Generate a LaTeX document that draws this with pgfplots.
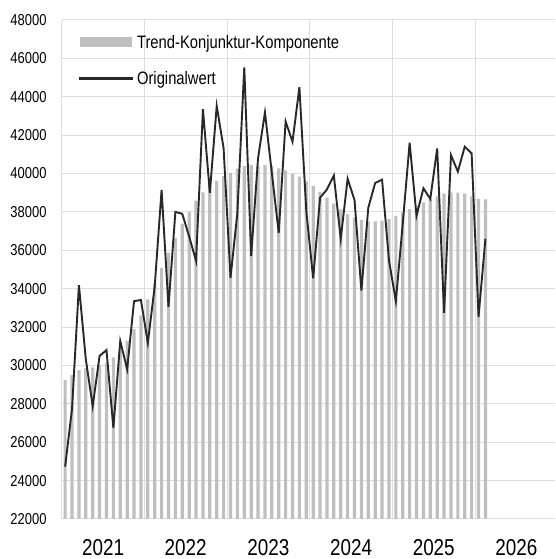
\documentclass[border=0pt]{standalone}
\usepackage{fontspec}
\setmainfont{Liberation Sans}[FakeStretch=0.82]
\usepackage{pgfplots}
\pgfplotsset{compat=1.18}
\usepackage{pgfplotstable}
\definecolor{barcol}{RGB}{191,191,191}
\definecolor{linecol}{RGB}{40,40,40}
\definecolor{gridcol}{RGB}{222,222,222}

\pgfplotstableread{
x trend orig
0.5 29230 24730
1.5 29500 27740
2.5 29760 34180
3.5 29850 30320
4.5 29900 27880
5.5 30000 30500
6.5 30150 30800
7.5 30420 26750
8.5 30800 31270
9.5 31270 29800
10.5 31880 33350
11.5 32610 33410
12.5 33440 31180
13.5 34250 34120
14.5 35080 39150
15.5 35880 33050
16.5 36640 38000
17.5 37390 37900
18.5 38000 36720
19.5 38590 35450
20.5 39020 43350
21.5 39450 38990
22.5 39630 43520
23.5 39860 41320
24.5 40030 34570
25.5 40250 37950
26.5 40380 45530
27.5 40450 35700
28.5 40380 40800
29.5 40450 43180
30.5 40380 40030
31.5 40270 36900
32.5 40160 42710
33.5 40000 41660
34.5 39840 44500
35.5 39580 38050
36.5 39340 34540
37.5 39050 38740
38.5 38750 39170
39.5 38430 39900
40.5 38130 36600
41.5 37870 39730
42.5 37700 38620
43.5 37580 33900
44.5 37510 38220
45.5 37510 39510
46.5 37550 39680
47.5 37620 35480
48.5 37790 33350
49.5 37980 37380
50.5 38150 41600
51.5 38320 37800
52.5 38500 39230
53.5 38670 38680
54.5 38810 41310
55.5 38950 32740
56.5 39000 40960
57.5 39000 40100
58.5 38950 41400
59.5 38810 41050
60.5 38680 32540
61.5 38660 36600
}\datatable

\begin{document}
\begin{tikzpicture}
\begin{axis}[
  scale only axis, width=493.3pt, height=499pt,
  xmin=0, xmax=71.6, ymin=22000, ymax=48000,
  scaled y ticks=false,
  axis line style={draw=none},
  xtick={6,18,30,42,54,66},
  xticklabels={2021,2022,2023,2024,2025,2026},
  minor xtick={0,12,24,36,48,60,72},
  ytick={22000,24000,...,48000},
  major tick length=0pt, minor tick length=0pt,
  xmajorgrids=false, xminorgrids=true, ymajorgrids=true,
  grid style={draw=gridcol, line width=1pt},
  minor grid style={draw=gridcol, line width=1pt},
  /pgf/number format/assume math mode=true,
  /pgf/number format/1000 sep={},
  yticklabel style={font=\fontsize{15.8}{18}\selectfont, inner sep=0pt, xshift=-15pt,
    /pgf/number format/fixed},
  xticklabel style={font=\fontsize{23}{26}\selectfont, inner sep=0pt, yshift=-20pt},
  legend cell align=left,
  legend style={draw=none, fill=none, at={(0,1)}, anchor=north west,
    xshift=17.3pt, yshift=-13pt, inner sep=0pt, row sep=17.5pt,
    /tikz/every odd column/.append style={column sep=2pt},
    font=\fontsize{18}{21}\selectfont},
]
\addplot[ybar, bar width=3.2pt, bar shift=0pt, fill=barcol, draw=none,
  legend image code/.code={\fill[barcol] (0pt,-5pt) rectangle (52pt,5pt);}]
  table[x=x,y=trend]{\datatable};
\addplot[linecol, line width=1.9pt, mark=none,
  legend image code/.code={\fill[linecol] (0pt,-1pt) rectangle (52pt,1pt);}]
  table[x=x,y=orig]{\datatable};
\legend{Trend-Konjunktur-Komponente, Originalwert}
\end{axis}
\pgfresetboundingbox
\path[use as bounding box] (-61.7pt,-40pt) rectangle (493.3pt,519pt);
\end{tikzpicture}
\end{document}
